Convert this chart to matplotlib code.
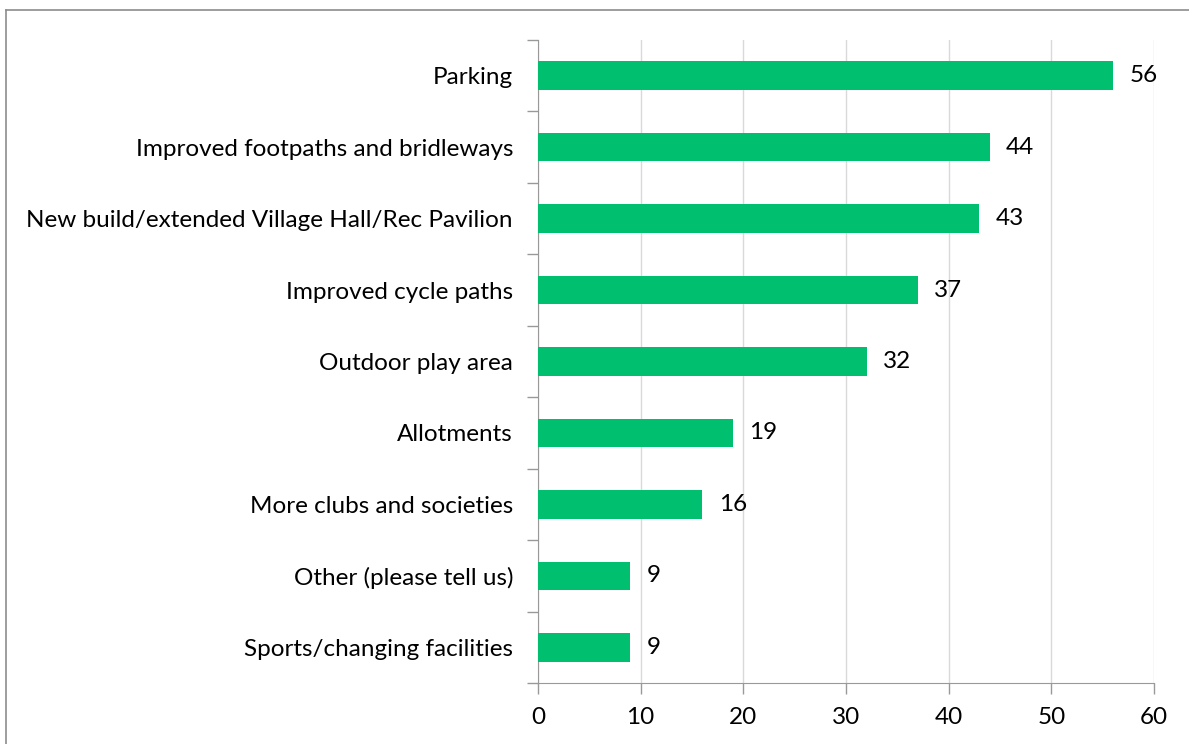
import matplotlib.pyplot as plt
from matplotlib.lines import Line2D

# Datos del gráfico (de arriba hacia abajo)
categories = ['Parking', 'Improved footpaths and bridleways',
              'New build/extended Village Hall/Rec Pavilion', 'Improved cycle paths',
              'Outdoor play area', 'Allotments', 'More clubs and societies',
              'Other (please tell us)', 'Sports/changing facilities']
values = [56, 44, 43, 37, 32, 19, 16, 9, 9]
x_ticks = [0, 10, 20, 30, 40, 50, 60]

plt.rcParams['font.family'] = ['Lato', 'DejaVu Sans']
fs = 17.5

fig = plt.figure(figsize=(11.89, 7.44), dpi=100)
ax = fig.add_axes([538 / 1189, 1 - 683 / 744, (1154 - 538) / 1189, (683 - 40) / 744])

n = len(categories)
pos = list(range(n))
ax.barh(pos, values, height=0.4, color='#00BF6F', zorder=3)
for p, v in zip(pos, values):
    ax.text(v + 1.6, p, str(v), va='center', ha='left', fontsize=fs, color='black')

ax.set_ylim(n - 0.5, -0.5)
ax.set_xlim(0, 60)
ax.set_xticks(x_ticks)
ax.set_xticklabels([str(t) for t in x_ticks], fontsize=fs)
ax.set_yticks(pos)
ax.set_yticklabels(categories, fontsize=fs)
ax.tick_params(axis='y', length=0, pad=18)
ax.tick_params(axis='x', length=8, color='#999999', width=1, pad=9)

# ticks menores en los límites de las categorías
ax.set_yticks([i - 0.5 for i in range(n + 1)], minor=True)
ax.tick_params(axis='y', which='minor', length=8, color='#999999', width=1)

ax.grid(axis='x', color='#d9d9d9', linewidth=1, zorder=0)
for s in ['top', 'right']:
    ax.spines[s].set_visible(False)
ax.spines['left'].set_color('#999999')
ax.spines['bottom'].set_color('#999999')

# borde del área del gráfico
fig.add_artist(Line2D([6 / 1189, 1], [1 - 10 / 744, 1 - 10 / 744], color='#8c8c8c', linewidth=1.2))
fig.add_artist(Line2D([6 / 1189, 6 / 1189], [0, 1 - 10 / 744], color='#8c8c8c', linewidth=1.2))

fig.savefig('out.png', dpi=100)
